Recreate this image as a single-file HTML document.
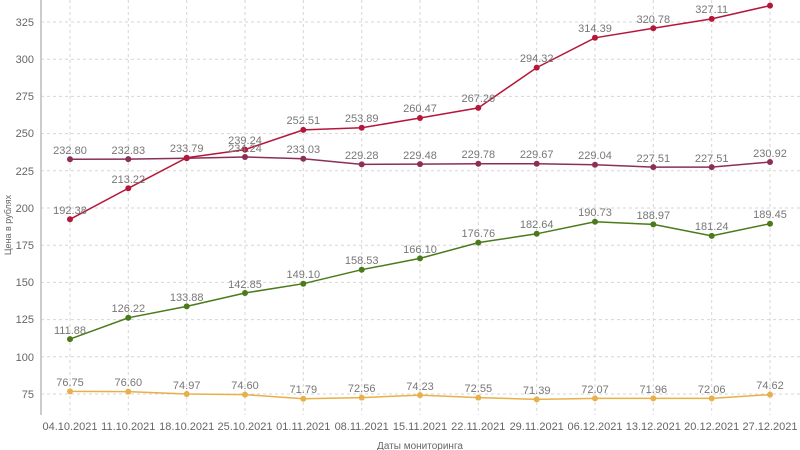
<!DOCTYPE html>
<html><head><meta charset="utf-8"><style>
html,body{margin:0;padding:0;background:#fff;}
svg{display:block;font-family:"Liberation Sans",sans-serif;}
.g{stroke:#d6d6d6;stroke-width:1;stroke-dasharray:3,3;}
.t{font-size:11px;fill:#666;}
.l{font-size:11px;fill:#777;text-anchor:middle;}
</style></head><body>
<svg width="800" height="450" viewBox="0 0 800 450">
<g class="g">
<line x1="41" x2="800" y1="22" y2="22"/><line x1="41" x2="800" y1="59.2" y2="59.2"/>
<line x1="41" x2="800" y1="96.4" y2="96.4"/><line x1="41" x2="800" y1="133.6" y2="133.6"/>
<line x1="41" x2="800" y1="170.8" y2="170.8"/><line x1="41" x2="800" y1="208" y2="208"/>
<line x1="41" x2="800" y1="245.2" y2="245.2"/><line x1="41" x2="800" y1="282.4" y2="282.4"/>
<line x1="41" x2="800" y1="319.6" y2="319.6"/><line x1="41" x2="800" y1="356.8" y2="356.8"/>
<line x1="41" x2="800" y1="394" y2="394"/>
<line x1="70" x2="70" y1="0" y2="415"/><line x1="128.3" x2="128.3" y1="0" y2="415"/>
<line x1="186.7" x2="186.7" y1="0" y2="415"/><line x1="245" x2="245" y1="0" y2="415"/>
<line x1="303.3" x2="303.3" y1="0" y2="415"/><line x1="361.7" x2="361.7" y1="0" y2="415"/>
<line x1="420" x2="420" y1="0" y2="415"/><line x1="478.3" x2="478.3" y1="0" y2="415"/>
<line x1="536.7" x2="536.7" y1="0" y2="415"/><line x1="595" x2="595" y1="0" y2="415"/>
<line x1="653.3" x2="653.3" y1="0" y2="415"/><line x1="711.7" x2="711.7" y1="0" y2="415"/>
<line x1="770" x2="770" y1="0" y2="415"/>
</g>
<line x1="41" x2="41" y1="0" y2="415" stroke="#ccc" stroke-width="2"/>
<g class="t" text-anchor="end">
<text x="34" y="26">325</text><text x="34" y="63">300</text><text x="34" y="100">275</text>
<text x="34" y="137">250</text><text x="34" y="175">225</text><text x="34" y="212">200</text>
<text x="34" y="249">175</text><text x="34" y="286">150</text><text x="34" y="323">125</text>
<text x="34" y="361">100</text><text x="34" y="398">75</text>
</g>
<g class="t" text-anchor="middle">
<text x="70" y="430">04.10.2021</text><text x="128.3" y="430">11.10.2021</text>
<text x="186.7" y="430">18.10.2021</text><text x="245" y="430">25.10.2021</text>
<text x="303.3" y="430">01.11.2021</text><text x="361.7" y="430">08.11.2021</text>
<text x="420" y="430">15.11.2021</text><text x="478.3" y="430">22.11.2021</text>
<text x="536.7" y="430">29.11.2021</text><text x="595" y="430">06.12.2021</text>
<text x="653.3" y="430">13.12.2021</text><text x="711.7" y="430">20.12.2021</text>
<text x="770" y="430">27.12.2021</text>
<text x="420" y="449" style="font-size:10px">Даты мониторинга</text>
<text transform="translate(11,225) rotate(-90)" style="font-size:9px">Цена в рублях</text>
</g>
<!-- purple -->
<polyline fill="none" stroke="#8b2f57" stroke-width="1.5" points="70,159.2 128.3,159.1 186.7,158.2 245,157 303.3,158.8 361.7,164.4 420,164.1 478.3,163.7 536.7,163.8 595,164.8 653.3,167.1 711.7,167.1 770,162"/>
<g fill="#8b2f57"><circle cx="70" cy="159.2" r="3"/><circle cx="128.3" cy="159.1" r="3"/><circle cx="186.7" cy="158.2" r="3"/><circle cx="245" cy="157" r="3"/><circle cx="303.3" cy="158.8" r="3"/><circle cx="361.7" cy="164.4" r="3"/><circle cx="420" cy="164.1" r="3"/><circle cx="478.3" cy="163.7" r="3"/><circle cx="536.7" cy="163.8" r="3"/><circle cx="595" cy="164.8" r="3"/><circle cx="653.3" cy="167.1" r="3"/><circle cx="711.7" cy="167.1" r="3"/><circle cx="770" cy="162" r="3"/></g>
<!-- red -->
<polyline fill="none" stroke="#b5173a" stroke-width="1.5" points="70,219.3 128.3,188.3 186.7,157.7 245,149.6 303.3,129.9 361.7,127.8 420,118 478.3,107.9 536.7,67.6 595,37.8 653.3,28.3 711.7,18.9 770,5.6"/>
<g fill="#b5173a"><circle cx="70" cy="219.3" r="3"/><circle cx="128.3" cy="188.3" r="3"/><circle cx="186.7" cy="157.7" r="3"/><circle cx="245" cy="149.6" r="3"/><circle cx="303.3" cy="129.9" r="3"/><circle cx="361.7" cy="127.8" r="3"/><circle cx="420" cy="118" r="3"/><circle cx="478.3" cy="107.9" r="3"/><circle cx="536.7" cy="67.6" r="3"/><circle cx="595" cy="37.8" r="3"/><circle cx="653.3" cy="28.3" r="3"/><circle cx="711.7" cy="18.9" r="3"/><circle cx="770" cy="5.6" r="3"/></g>
<!-- green -->
<polyline fill="none" stroke="#4a7a1a" stroke-width="1.5" points="70,339.1 128.3,317.8 186.7,306.4 245,293 303.3,283.7 361.7,269.7 420,258.4 478.3,242.6 536.7,233.8 595,221.8 653.3,224.4 711.7,235.9 770,223.7"/>
<g fill="#4a7a1a"><circle cx="70" cy="339.1" r="3"/><circle cx="128.3" cy="317.8" r="3"/><circle cx="186.7" cy="306.4" r="3"/><circle cx="245" cy="293" r="3"/><circle cx="303.3" cy="283.7" r="3"/><circle cx="361.7" cy="269.7" r="3"/><circle cx="420" cy="258.4" r="3"/><circle cx="478.3" cy="242.6" r="3"/><circle cx="536.7" cy="233.8" r="3"/><circle cx="595" cy="221.8" r="3"/><circle cx="653.3" cy="224.4" r="3"/><circle cx="711.7" cy="235.9" r="3"/><circle cx="770" cy="223.7" r="3"/></g>
<!-- yellow -->
<polyline fill="none" stroke="#e8b04a" stroke-width="1.5" points="70,391.4 128.3,391.6 186.7,394 245,394.6 303.3,398.8 361.7,397.6 420,395.1 478.3,397.6 536.7,399.4 595,398.4 653.3,398.4 711.7,398.4 770,394.6"/>
<g fill="#e8b04a"><circle cx="70" cy="391.4" r="3"/><circle cx="128.3" cy="391.6" r="3"/><circle cx="186.7" cy="394" r="3"/><circle cx="245" cy="394.6" r="3"/><circle cx="303.3" cy="398.8" r="3"/><circle cx="361.7" cy="397.6" r="3"/><circle cx="420" cy="395.1" r="3"/><circle cx="478.3" cy="397.6" r="3"/><circle cx="536.7" cy="399.4" r="3"/><circle cx="595" cy="398.4" r="3"/><circle cx="653.3" cy="398.4" r="3"/><circle cx="711.7" cy="398.4" r="3"/><circle cx="770" cy="394.6" r="3"/></g>
<!-- labels -->
<g class="l">
<text x="70" y="154">232.80</text><text x="128.3" y="154">232.83</text><text x="186.7" y="152">233.79</text>
<text x="245" y="152">234.24</text><text x="303.3" y="153">233.03</text><text x="361.7" y="159">229.28</text>
<text x="420" y="159">229.48</text><text x="478.3" y="158">229.78</text><text x="536.7" y="158">229.67</text>
<text x="595" y="159">229.04</text><text x="653.3" y="162">227.51</text><text x="711.7" y="162">227.51</text>
<text x="770" y="157">230.92</text>
<text x="70" y="214">192.38</text><text x="128.3" y="183">213.22</text><text x="245" y="144">239.24</text>
<text x="303.3" y="124">252.51</text><text x="361.7" y="122">253.89</text><text x="420" y="112">260.47</text>
<text x="478.3" y="102">267.26</text><text x="536.7" y="62">294.32</text><text x="595" y="32">314.39</text>
<text x="653.3" y="23">320.78</text><text x="711.7" y="13">327.11</text>
<text x="70" y="334">111.88</text><text x="128.3" y="312">126.22</text><text x="186.7" y="301">133.88</text>
<text x="245" y="288">142.85</text><text x="303.3" y="278">149.10</text><text x="361.7" y="264">158.53</text>
<text x="420" y="253">166.10</text><text x="478.3" y="237">176.76</text><text x="536.7" y="228">182.64</text>
<text x="595" y="216">190.73</text><text x="653.3" y="219">188.97</text><text x="711.7" y="230">181.24</text>
<text x="770" y="218">189.45</text>
<text x="70" y="386">76.75</text><text x="128.3" y="386">76.60</text><text x="186.7" y="389">74.97</text>
<text x="245" y="389">74.60</text><text x="303.3" y="393">71.79</text><text x="361.7" y="392">72.56</text>
<text x="420" y="390">74.23</text><text x="478.3" y="392">72.55</text><text x="536.7" y="394">71.39</text>
<text x="595" y="393">72.07</text><text x="653.3" y="393">71.96</text><text x="711.7" y="393">72.06</text>
<text x="770" y="389">74.62</text>
</g>
</svg>
</body></html>
